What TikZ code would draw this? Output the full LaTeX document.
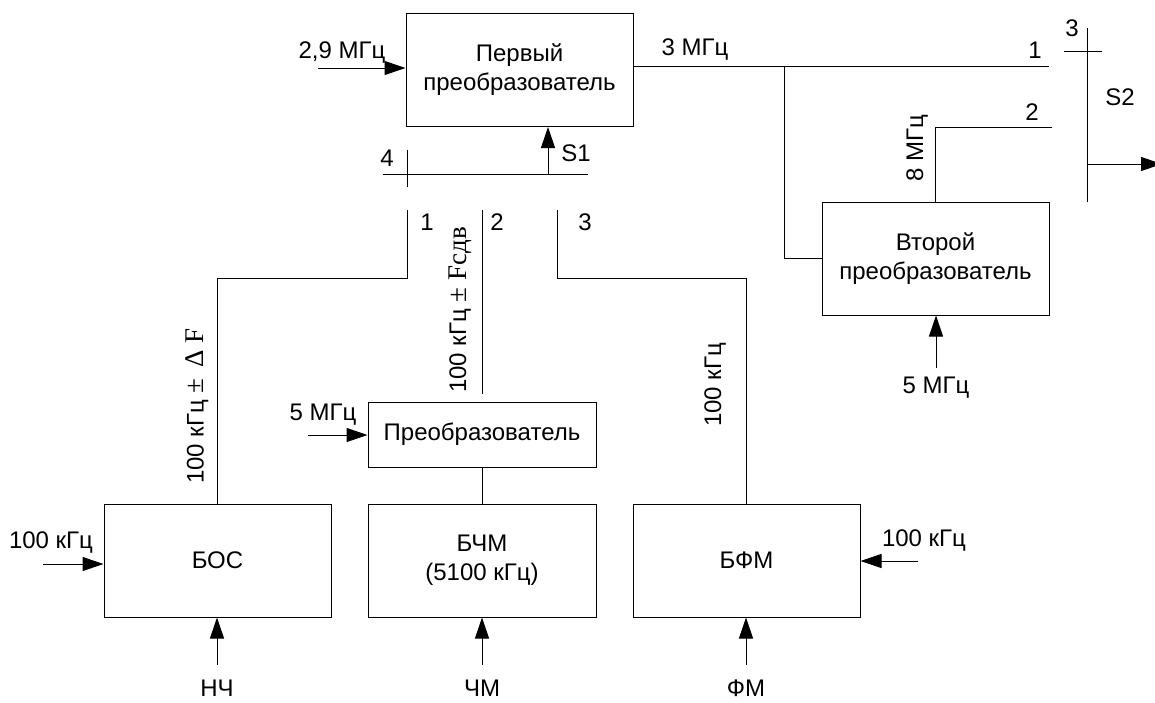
\documentclass[tikz,border=0pt]{standalone}
\usepackage{fontspec}
\setmainfont{Liberation Sans}
\newfontfamily\serfont{Liberation Serif}
\usetikzlibrary{arrows.meta, positioning, calc}
\tikzset{
  blk/.style={rectangle, draw=black, line width=0.5pt, minimum width=113.5pt,
    minimum height=56.5pt, align=center, font=\fontsize{12}{14.5}\selectfont, inner sep=2pt},
  lbl/.style={inner sep=1pt, font=\fontsize{12}{14}\selectfont},
  wire/.style={line width=0.5pt, black},
  arr/.style={-{Triangle[length=10.5pt, width=7pt]}, line width=0.5pt, black},
}
\newcommand{\serpart}[1]{{\fontsize{13.5}{14}\serfont #1}}

\begin{document}
\begin{tikzpicture}[x=0.5pt, y=-0.5pt]
        \useasboundingbox (0,0) rectangle (1155,702);
        % blocks
        \node[blk] (first) at (519.5,70) {Первый\\преобразователь};
        \node[blk] (second) at (935.5,258.5) {Второй\\преобразователь};
        \node[blk, minimum width=114pt, minimum height=32.5pt] (preob) at (482,434.5) {Преобразователь};
        \node[blk] (bos) at (217.5,560.5) {БОС};
        \node[blk, minimum width=114pt] (bchm) at (482,560.5) {БЧМ\\(5100 кГц)};
        \node[blk] (bfm) at (746.5,560.5) {БФМ};
        % switch S1
        \coordinate (s1l) at (383,174);
        \coordinate (s1r) at (588,174);
        \coordinate (s1out) at (548,174);
        \coordinate (c1) at (407,210);
        \coordinate (c2) at (482,210);
        \coordinate (c3) at (557,210);
        \draw[wire] (s1l) -- (s1r);
        \draw[wire] (407,150) -- (407,187);
        \draw[arr] (s1out) -- (s1out |- first.south);
        \node[lbl] at (387,158) {4};
        \node[lbl] at (576,153) {S1};
        \node[lbl] at (427,222) {1};
        \node[lbl] at (497,222) {2};
        \node[lbl] at (585,222) {3};
        % contacts to blocks
        \draw[wire] (c1) -- ++(0,68) -| (bos.north);
        \draw[wire, shorten >=4pt] (c2) -- (preob.north);
        \draw[wire] (c3) -- ++(0,68) -| (bfm.north);
        \draw[wire] (preob.south) -- (bchm.north);
        \node[lbl, rotate=90] at (197,406) {100 кГц \serpart{±\, Δ F}};
        \node[lbl, rotate=90] at (460,310) {100 кГц \serpart{± Fсдв}};
        \node[lbl, rotate=90] at (715,385) {100 кГц};
        % inputs
        \coordinate (in29) at (318,68);
        \coordinate (in5a) at (308,435);
        \coordinate (in100a) at (43,564);
        \coordinate (in100b) at (918,561);
        \coordinate (in5b) at (936,368);
        \draw[arr] (in29) -- (in29 -| first.west);
        \draw[arr] (in5a) -- (in5a -| preob.west);
        \draw[arr] (in100a) -- (in100a -| bos.west);
        \draw[arr] (in100b) -- (in100b -| bfm.east);
        \draw[arr] (in5b) -- (in5b |- second.south);
        \node[lbl] at (342,53) {2,9 МГц};
        \node[lbl] at (323,415) {5 МГц};
        \node[lbl] at (51,543) {100 кГц};
        \node[lbl] at (924,541) {100 кГц};
        \node[lbl] at (936,388) {5 МГц};
        \coordinate (nch) at (217,665);
        \coordinate (chm) at (482,665);
        \coordinate (fm) at (746,665);
        \foreach \n/\b/\t in {nch/bos/НЧ, chm/bchm/ЧМ, fm/bfm/ФМ} {
          \draw[arr] (\n) -- (\n |- \b.south);
          \node[lbl] at ($(\n)+(0,23)$) {\t};
        }
        % right side and switch S2
        \coordinate (k1) at (1049,66);
        \coordinate (br) at (784,66);
        \coordinate (k2) at (1052,127);
        \coordinate (s2o) at (1087,164);
        \coordinate (s2end) at (1162,164);
        \draw[wire] (k1 -| first.east) -- (k1);
        \draw[wire] (br) |- (second.west);
        \draw[wire] (second.north) |- (k2);
        \draw[wire] (1087,28) -- (1087,202);
        \draw[wire] (1064,51) -- (1102,51);
        \draw[arr] (s2o) -- (s2end);
        \node[lbl] at (695,50) {3 МГц};
        \node[lbl] at (1035,50) {1};
        \node[lbl] at (1032,112) {2};
        \node[lbl] at (1072,28) {3};
        \node[lbl] at (1120,97) {S2};
        \node[lbl, rotate=90] at (917,148) {8 МГц};
      \end{tikzpicture}
\end{document}
